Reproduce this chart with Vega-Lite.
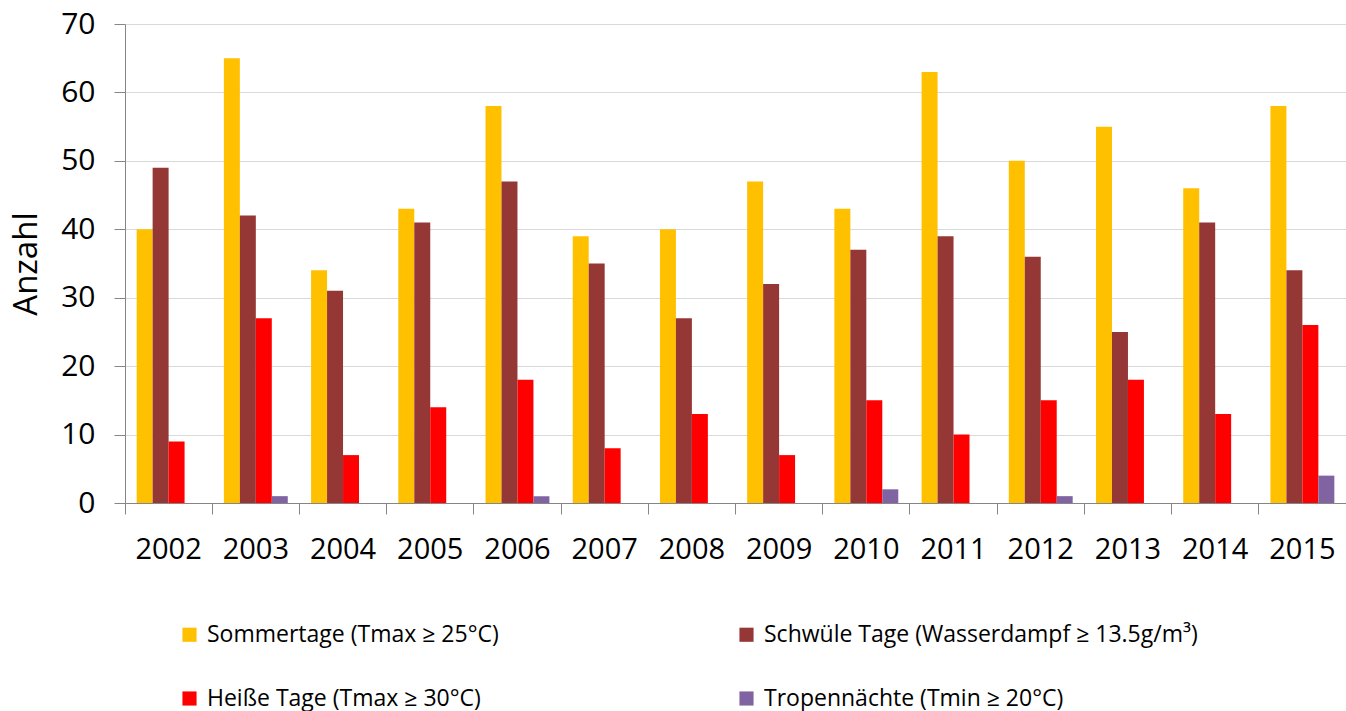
{
  "$schema": "https://vega.github.io/schema/vega-lite/v6.json",
  "autosize": "none",
  "padding": {"left": 125, "top": 24, "right": 0, "bottom": 208},
  "width": 1221,
  "height": 479,
  "background": "white",
  "config": {
    "view": {"stroke": null},
    "font": "Open Sans"
  },
  "data": {
    "values": [
      {"Jahr": "2002", "Serie": "Sommertage (Tmax ≥ 25°C)", "Anzahl": 40},
      {"Jahr": "2002", "Serie": "Schwüle Tage (Wasserdampf ≥ 13.5g/m³)", "Anzahl": 49},
      {"Jahr": "2002", "Serie": "Heiße Tage (Tmax ≥ 30°C)", "Anzahl": 9},
      {"Jahr": "2002", "Serie": "Tropennächte (Tmin ≥ 20°C)", "Anzahl": 0},
      {"Jahr": "2003", "Serie": "Sommertage (Tmax ≥ 25°C)", "Anzahl": 65},
      {"Jahr": "2003", "Serie": "Schwüle Tage (Wasserdampf ≥ 13.5g/m³)", "Anzahl": 42},
      {"Jahr": "2003", "Serie": "Heiße Tage (Tmax ≥ 30°C)", "Anzahl": 27},
      {"Jahr": "2003", "Serie": "Tropennächte (Tmin ≥ 20°C)", "Anzahl": 1},
      {"Jahr": "2004", "Serie": "Sommertage (Tmax ≥ 25°C)", "Anzahl": 34},
      {"Jahr": "2004", "Serie": "Schwüle Tage (Wasserdampf ≥ 13.5g/m³)", "Anzahl": 31},
      {"Jahr": "2004", "Serie": "Heiße Tage (Tmax ≥ 30°C)", "Anzahl": 7},
      {"Jahr": "2004", "Serie": "Tropennächte (Tmin ≥ 20°C)", "Anzahl": 0},
      {"Jahr": "2005", "Serie": "Sommertage (Tmax ≥ 25°C)", "Anzahl": 43},
      {"Jahr": "2005", "Serie": "Schwüle Tage (Wasserdampf ≥ 13.5g/m³)", "Anzahl": 41},
      {"Jahr": "2005", "Serie": "Heiße Tage (Tmax ≥ 30°C)", "Anzahl": 14},
      {"Jahr": "2005", "Serie": "Tropennächte (Tmin ≥ 20°C)", "Anzahl": 0},
      {"Jahr": "2006", "Serie": "Sommertage (Tmax ≥ 25°C)", "Anzahl": 58},
      {"Jahr": "2006", "Serie": "Schwüle Tage (Wasserdampf ≥ 13.5g/m³)", "Anzahl": 47},
      {"Jahr": "2006", "Serie": "Heiße Tage (Tmax ≥ 30°C)", "Anzahl": 18},
      {"Jahr": "2006", "Serie": "Tropennächte (Tmin ≥ 20°C)", "Anzahl": 1},
      {"Jahr": "2007", "Serie": "Sommertage (Tmax ≥ 25°C)", "Anzahl": 39},
      {"Jahr": "2007", "Serie": "Schwüle Tage (Wasserdampf ≥ 13.5g/m³)", "Anzahl": 35},
      {"Jahr": "2007", "Serie": "Heiße Tage (Tmax ≥ 30°C)", "Anzahl": 8},
      {"Jahr": "2007", "Serie": "Tropennächte (Tmin ≥ 20°C)", "Anzahl": 0},
      {"Jahr": "2008", "Serie": "Sommertage (Tmax ≥ 25°C)", "Anzahl": 40},
      {"Jahr": "2008", "Serie": "Schwüle Tage (Wasserdampf ≥ 13.5g/m³)", "Anzahl": 27},
      {"Jahr": "2008", "Serie": "Heiße Tage (Tmax ≥ 30°C)", "Anzahl": 13},
      {"Jahr": "2008", "Serie": "Tropennächte (Tmin ≥ 20°C)", "Anzahl": 0},
      {"Jahr": "2009", "Serie": "Sommertage (Tmax ≥ 25°C)", "Anzahl": 47},
      {"Jahr": "2009", "Serie": "Schwüle Tage (Wasserdampf ≥ 13.5g/m³)", "Anzahl": 32},
      {"Jahr": "2009", "Serie": "Heiße Tage (Tmax ≥ 30°C)", "Anzahl": 7},
      {"Jahr": "2009", "Serie": "Tropennächte (Tmin ≥ 20°C)", "Anzahl": 0},
      {"Jahr": "2010", "Serie": "Sommertage (Tmax ≥ 25°C)", "Anzahl": 43},
      {"Jahr": "2010", "Serie": "Schwüle Tage (Wasserdampf ≥ 13.5g/m³)", "Anzahl": 37},
      {"Jahr": "2010", "Serie": "Heiße Tage (Tmax ≥ 30°C)", "Anzahl": 15},
      {"Jahr": "2010", "Serie": "Tropennächte (Tmin ≥ 20°C)", "Anzahl": 2},
      {"Jahr": "2011", "Serie": "Sommertage (Tmax ≥ 25°C)", "Anzahl": 63},
      {"Jahr": "2011", "Serie": "Schwüle Tage (Wasserdampf ≥ 13.5g/m³)", "Anzahl": 39},
      {"Jahr": "2011", "Serie": "Heiße Tage (Tmax ≥ 30°C)", "Anzahl": 10},
      {"Jahr": "2011", "Serie": "Tropennächte (Tmin ≥ 20°C)", "Anzahl": 0},
      {"Jahr": "2012", "Serie": "Sommertage (Tmax ≥ 25°C)", "Anzahl": 50},
      {"Jahr": "2012", "Serie": "Schwüle Tage (Wasserdampf ≥ 13.5g/m³)", "Anzahl": 36},
      {"Jahr": "2012", "Serie": "Heiße Tage (Tmax ≥ 30°C)", "Anzahl": 15},
      {"Jahr": "2012", "Serie": "Tropennächte (Tmin ≥ 20°C)", "Anzahl": 1},
      {"Jahr": "2013", "Serie": "Sommertage (Tmax ≥ 25°C)", "Anzahl": 55},
      {"Jahr": "2013", "Serie": "Schwüle Tage (Wasserdampf ≥ 13.5g/m³)", "Anzahl": 25},
      {"Jahr": "2013", "Serie": "Heiße Tage (Tmax ≥ 30°C)", "Anzahl": 18},
      {"Jahr": "2013", "Serie": "Tropennächte (Tmin ≥ 20°C)", "Anzahl": 0},
      {"Jahr": "2014", "Serie": "Sommertage (Tmax ≥ 25°C)", "Anzahl": 46},
      {"Jahr": "2014", "Serie": "Schwüle Tage (Wasserdampf ≥ 13.5g/m³)", "Anzahl": 41},
      {"Jahr": "2014", "Serie": "Heiße Tage (Tmax ≥ 30°C)", "Anzahl": 13},
      {"Jahr": "2014", "Serie": "Tropennächte (Tmin ≥ 20°C)", "Anzahl": 0},
      {"Jahr": "2015", "Serie": "Sommertage (Tmax ≥ 25°C)", "Anzahl": 58},
      {"Jahr": "2015", "Serie": "Schwüle Tage (Wasserdampf ≥ 13.5g/m³)", "Anzahl": 34},
      {"Jahr": "2015", "Serie": "Heiße Tage (Tmax ≥ 30°C)", "Anzahl": 26},
      {"Jahr": "2015", "Serie": "Tropennächte (Tmin ≥ 20°C)", "Anzahl": 4}
    ]
  },
  "mark": {"type": "bar"},
  "encoding": {
    "x": {
      "field": "Jahr",
      "type": "nominal",
      "scale": {"paddingInner": 0, "paddingOuter": 0},
      "axis": {
        "title": null,
        "labelAngle": 0,
        "labelFontSize": 29,
        "labelColor": "#000000",
        "labelPadding": 21,
        "bandPosition": 0,
        "tickSize": 11,
        "tickColor": "#868686",
        "domainColor": "#868686",
        "grid": false
      }
    },
    "xOffset": {
      "field": "Serie",
      "type": "nominal",
      "sort": [
        "Sommertage (Tmax ≥ 25°C)",
        "Schwüle Tage (Wasserdampf ≥ 13.5g/m³)",
        "Heiße Tage (Tmax ≥ 30°C)",
        "Tropennächte (Tmin ≥ 20°C)"
      ],
      "scale": {"paddingInner": 0, "paddingOuter": 0.73}
    },
    "y": {
      "field": "Anzahl",
      "type": "quantitative",
      "scale": {"domain": [0, 70], "nice": false},
      "axis": {
        "title": "Anzahl",
        "titleFontSize": 33,
        "titleFontWeight": "normal",
        "titleColor": "#000000",
        "titlePadding": 17,
        "values": [0, 10, 20, 30, 40, 50, 60, 70],
        "labelFontSize": 30,
        "labelColor": "#000000",
        "labelPadding": 19,
        "tickSize": 11,
        "tickColor": "#868686",
        "domainColor": "#868686",
        "grid": true,
        "gridColor": "#D9D9D9"
      }
    },
    "color": {
      "field": "Serie",
      "type": "nominal",
      "sort": [
        "Sommertage (Tmax ≥ 25°C)",
        "Schwüle Tage (Wasserdampf ≥ 13.5g/m³)",
        "Heiße Tage (Tmax ≥ 30°C)",
        "Tropennächte (Tmin ≥ 20°C)"
      ],
      "scale": {
        "domain": [
          "Sommertage (Tmax ≥ 25°C)",
          "Schwüle Tage (Wasserdampf ≥ 13.5g/m³)",
          "Heiße Tage (Tmax ≥ 30°C)",
          "Tropennächte (Tmin ≥ 20°C)"
        ],
        "range": ["#FFC000", "#953735", "#FF0000", "#8064A2"]
      },
      "legend": {
        "title": null,
        "orient": "none",
        "legendX": 53,
        "legendY": 599,
        "direction": "horizontal",
        "columns": 2,
        "symbolType": "square",
        "symbolSize": 200,
        "symbolStrokeWidth": 0,
        "labelFontSize": 23,
        "labelColor": "#000000",
        "labelOffset": 6,
        "labelLimit": 600,
        "columnPadding": 236,
        "rowPadding": 40
      }
    }
  }
}
